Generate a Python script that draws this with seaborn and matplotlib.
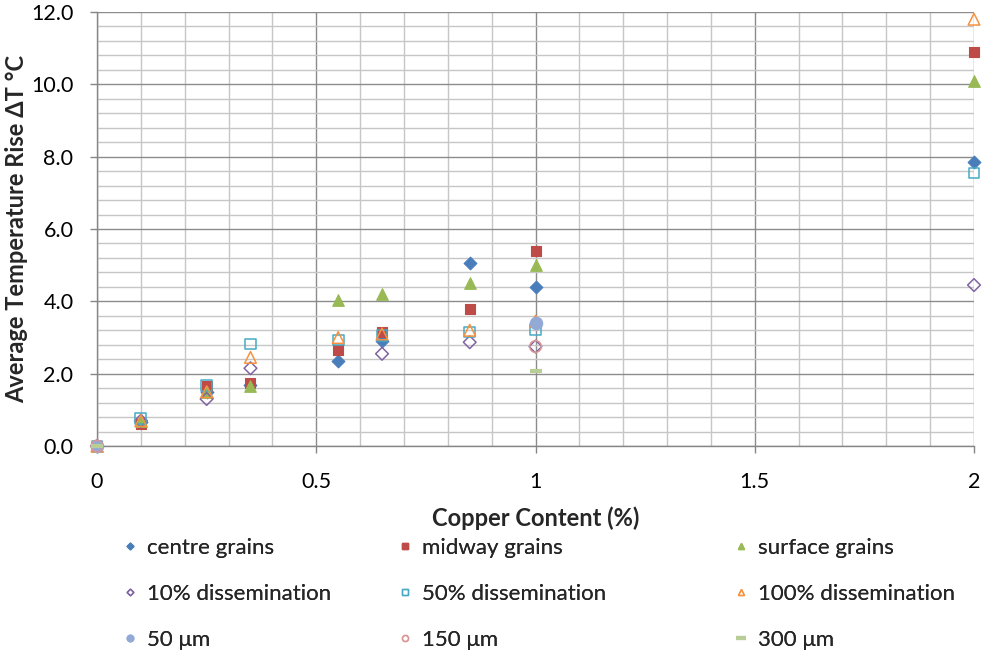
import numpy as np
import pandas as pd
import matplotlib
matplotlib.use("Agg")
import matplotlib.pyplot as plt
from matplotlib.ticker import MultipleLocator, FormatStrFormatter
from matplotlib.lines import Line2D
import seaborn as sns

# Copper content (%) at which temperature rise was measured
cu_content = [0.0, 0.1, 0.25, 0.35, 0.55, 0.65, 0.85, 1.0, 2.0]

# Average temperature rise (deg C) per grain location
centre_grains = [0.0, 0.65, 1.5, 1.7, 2.35, 2.9, 5.05, 4.4, 7.85]
midway_grains = [0.0, 0.6, 1.65, 1.75, 2.65, 3.15, 3.8, 5.4, 10.9]
surface_grains = [0.0, 0.7, 1.5, 1.65, 4.05, 4.2, 4.5, 5.0, 10.1]

# Average temperature rise per dissemination level
diss_10 = [0.0, 0.7, 1.3, 2.15, np.nan, 2.55, 2.87, 2.75, 4.45]
diss_50 = [0.0, 0.77, 1.68, 2.82, 2.93, 3.05, 3.15, 3.22, 7.55]
diss_100 = [0.0, 0.7, 1.5, 2.45, 3.0, 3.1, 3.2, 3.45, 11.8]

# Average temperature rise per grain size
size_cu = [0.0, 1.0]
size_50um = [0.0, 3.39]
size_150um = [0.0, 2.75]
size_300um = [0.0, 2.07]

series = [
    # label, x, y, marker, colour, filled, size
    ("centre grains", cu_content, centre_grains, "D", "#4A7EBB", True, 42),
    ("midway grains", cu_content, midway_grains, "s", "#BE4B48", True, 60),
    ("surface grains", cu_content, surface_grains, "^", "#98B954", True, 70),
    ("10% dissemination", cu_content, diss_10, "D", "#8064A2", False, 42),
    ("50% dissemination", cu_content, diss_50, "s", "#46AAC5", False, 60),
    ("100% dissemination", cu_content, diss_100, "^", "#F69240", False, 70),
    ("50 \u03bcm", size_cu, size_50um, "o", "#93A9D6", True, 80),
    ("150 \u03bcm", size_cu, size_150um, "o", "#D99694", False, 70),
    ("300 \u03bcm", size_cu, size_300um, "_", "#B9CD96", False, 64),
]

sns.set_theme(style="white")
plt.rcParams["font.family"] = ["Lato", "DejaVu Sans"]

fig = plt.figure(figsize=(9.82, 6.52), dpi=100)
ax = fig.add_axes([97 / 982, 1 - 446 / 652, (974 - 97) / 982, (446 - 12) / 652])

handles = []
for label, xs, ys, marker, colour, filled, size in series:
    df = pd.DataFrame({"x": xs, "y": ys}).dropna()
    kws = dict(data=df, x="x", y="y", ax=ax, marker=marker, s=size,
               color=colour, clip_on=False, zorder=3)
    if marker == "_":
        kws.update(linewidth=3)
    elif filled:
        kws.update(edgecolor=colour, linewidth=0.8)
    else:
        kws.update(facecolors="none", edgecolor=colour, linewidth=1.1)
    sns.scatterplot(**kws)
    ms = np.sqrt(size) * 0.62
    if marker == "_":
        h = Line2D([], [], ls="none", marker="_", color=colour, ms=7, mew=3)
    elif filled:
        h = Line2D([], [], ls="none", marker=marker, color=colour, ms=ms * 0.85)
    else:
        h = Line2D([], [], ls="none", marker=marker, mfc="none", mec=colour,
                   mew=1.0, ms=ms * 0.85)
    handles.append((h, label))

ax.set_xlim(0, 2)
ax.set_ylim(0, 12)
ax.xaxis.set_major_locator(MultipleLocator(0.5))
ax.xaxis.set_minor_locator(MultipleLocator(0.1))
ax.yaxis.set_major_locator(MultipleLocator(2))
ax.yaxis.set_minor_locator(MultipleLocator(0.4))
ax.yaxis.set_major_formatter(FormatStrFormatter("%.1f"))
ax.xaxis.set_major_formatter(FormatStrFormatter("%g"))

ax.grid(which="major", color="#8C8C8C", linewidth=1.0, zorder=0)
ax.grid(which="minor", color="#C6C6C6", linewidth=1.0, zorder=0)
ax.set_axisbelow(True)

for side in ("top", "right"):
    ax.spines[side].set_visible(False)
for side in ("left", "bottom"):
    ax.spines[side].set_color("#868686")
    ax.spines[side].set_linewidth(1.0)

ax.tick_params(axis="both", which="major", labelsize=15.5, colors="#000000",
               length=5, width=1, color="#868686", direction="out")
ax.tick_params(axis="both", which="minor", length=0)
ax.tick_params(axis="x", which="major", pad=14, bottom=True)
ax.tick_params(axis="y", which="major", pad=12, left=True)

ax.set_xlabel("Copper Content (%)", fontsize=17, fontweight="bold", labelpad=10)
ax.set_ylabel("Average Temperature Rise \u0394T \u00b0C", fontsize=17,
              fontweight="bold", labelpad=2)

# Three legend columns laid out below the plot
col_x = [121 / 982, 396 / 982, 732 / 982]
for c in range(3):
    hs = [handles[c + 3 * r] for r in range(3)]
    leg = fig.legend([h for h, _ in hs], [l for _, l in hs],
                     loc="upper left", bbox_to_anchor=(col_x[c], 1 - 538 / 652),
                     frameon=False, fontsize=16, handlelength=0.8,
                     handletextpad=0.35, labelspacing=1.17, borderaxespad=0,
                     borderpad=0)
    fig.add_artist(leg)

fig.savefig("out.png", dpi=100)
